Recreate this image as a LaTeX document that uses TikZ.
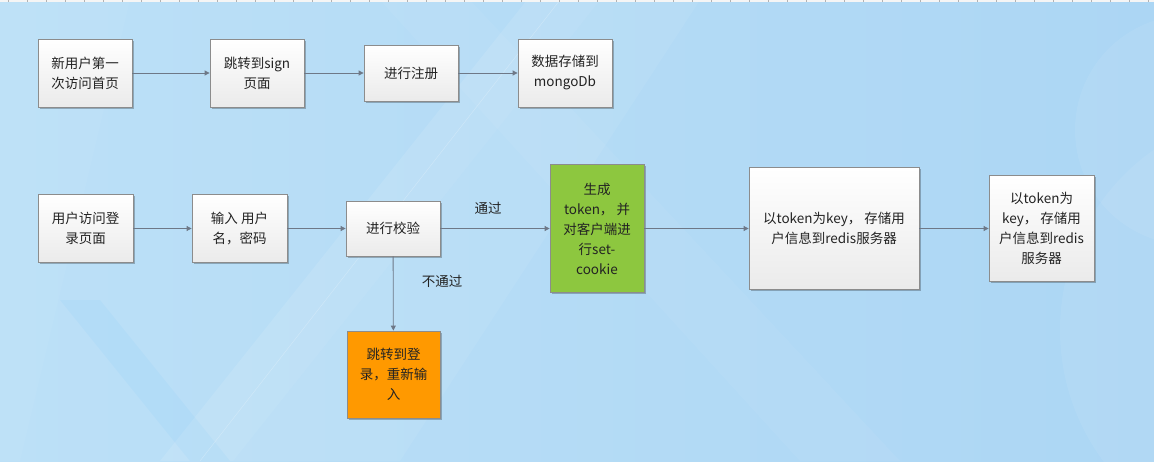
\documentclass[tikz,border=0pt]{standalone}
\usepackage{fontspec}
\setmainfont{Noto Sans CJK SC}
\usetikzlibrary{arrows.meta,shadows}
\definecolor{bgL}{RGB}{188,224,247}
\definecolor{bgR}{RGB}{172,214,244}
\definecolor{bordergray}{RGB}{140,140,140}
\definecolor{linegray}{RGB}{110,120,135}
\definecolor{txt}{RGB}{35,35,35}
\definecolor{boxgreen}{RGB}{141,199,63}
\definecolor{boxorange}{RGB}{255,153,0}
\tikzset{
  box/.style={draw=bordergray, line width=0.8pt, top color=white, bottom color=black!8,
    align=center, text=txt, inner sep=2pt, font=\fontsize{13.5}{20}\selectfont,
    drop shadow={shadow xshift=1.5pt, shadow yshift=-1.5pt, opacity=0.25, fill=black}},
  greenbox/.style={box, top color=boxgreen, bottom color=boxgreen},
  orangebox/.style={box, top color=boxorange, bottom color=boxorange},
  conn/.style={draw=linegray, line width=0.8pt, -{Triangle[length=5pt,width=5pt]}},
  lbl/.style={text=txt, font=\fontsize{13.5}{20}\selectfont, inner sep=0pt}
}
\begin{document}
\begin{tikzpicture}[x=1pt,y=-1pt]
\useasboundingbox (0,0) rectangle (1154,461);
% background
\shade[left color=bgL, right color=bgR] (0,0) rectangle (1154,461);
\begin{scope}
\clip (0,0) rectangle (1154,461);
\fill[white, opacity=0.10] (160,461) -- (527,0) -- (600,0) -- (233,461) -- cycle;
\fill[white, opacity=0.06] (233,461) -- (600,0) -- (700,0) -- (400,461) -- cycle;
\fill[blue!40!cyan, opacity=0.04] (60,300) -- (190,461) -- (230,461) -- (100,300) -- cycle;
\fill[white, opacity=0.04] (0,0) -- (130,0) -- (20,461) -- (0,461) -- cycle;
\fill[white, opacity=0.05] (380,0) -- (470,0) -- (900,461) -- (800,461) -- cycle;
\fill[white, opacity=0.07] (1190,130) circle (115);
\fill[white, opacity=0.07] (1280,330) circle (220);
\draw[white, opacity=0.25, line width=0.5pt] (200,461) -- (560,0);
\end{scope}
% top ruler
\fill[white!92!gray] (0,0) rectangle (1154,1.5);
\foreach \i in {0,...,60} {\draw[gray!60, line width=0.4pt] (\i*19+8,0) -- (\i*19+8,1.5);}
% top row
\node[box, minimum width=94pt, minimum height=68pt] (n1) at (85,73) {新用户第一\\次访问首页};
\node[box, minimum width=94pt, minimum height=68pt] (n2) at (257,73) {跳转到sign\\页面};
\node[box, minimum width=94pt, minimum height=56pt] (n3) at (411,73) {进行注册};
\node[box, minimum width=94pt, minimum height=68pt] (n4) at (565,73) {数据存储到\\mongoDb};
\draw[conn] (n1) -- (n2);
\draw[conn] (n2) -- (n3);
\draw[conn] (n3) -- (n4);
% bottom row
\node[box, minimum width=95pt, minimum height=68pt] (m1) at (85.5,228.5) {用户访问登\\录页面};
\node[box, minimum width=95pt, minimum height=68pt] (m2) at (239.5,228.5) {输入 用户\\名，密码};
\node[box, minimum width=94pt, minimum height=55pt] (m3) at (393,228.5) {进行校验};
\node[greenbox, minimum width=94pt, minimum height=128pt] (g) at (597,228.5) {生成\\token， 并\\对客户端进\\行set-\\cookie};
\node[box, minimum width=170pt, minimum height=122pt] (b) at (834,228.5) {以token为key， 存储用\\户信息到redis服务器};
\node[box, minimum width=105pt, minimum height=106pt] (l) at (1041.5,228.5) {以token为\\key， 存储用\\户信息到redis\\服务器};
\node[orangebox, minimum width=93pt, minimum height=87pt] (o) at (393.5,374.5) {跳转到登\\录，重新输\\入};
\draw[conn] (m1) -- (m2);
\draw[conn] (m2) -- (m3);
\draw[conn] (m3) -- (g);
\draw[conn] (g) -- (b);
\draw[conn] (b) -- (l);
\draw[conn] (m3) -- (o);
\node[lbl] (pass) at (488,208) {通过};
\node[lbl] (fail) at (442,281) {不通过};
\end{tikzpicture}
\end{document}
